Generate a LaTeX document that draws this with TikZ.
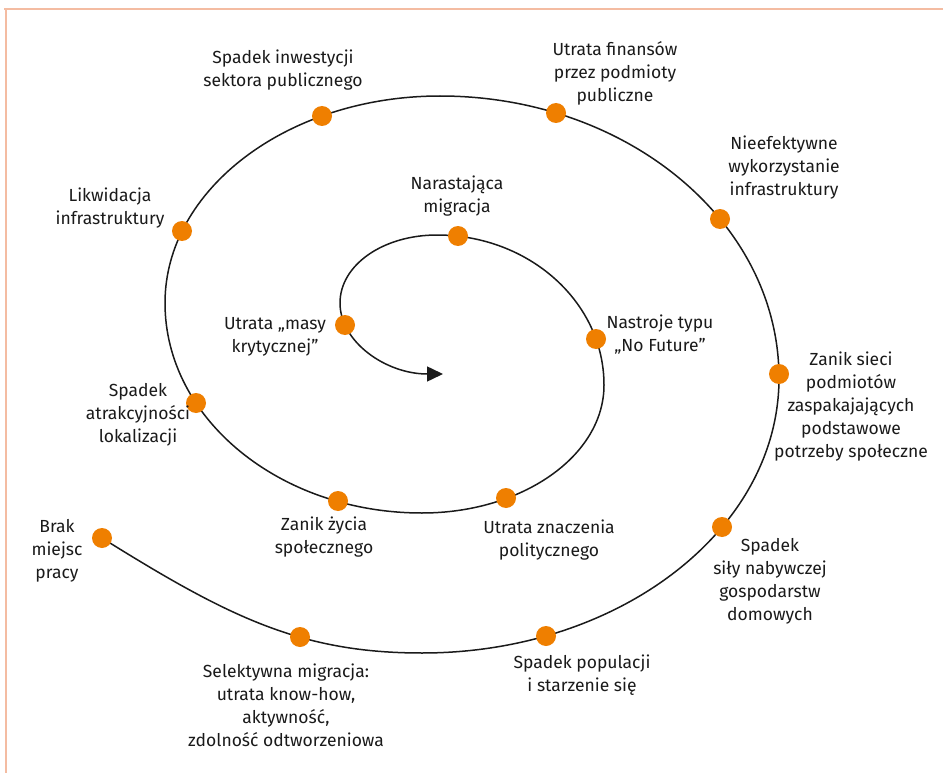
\documentclass[tikz,border=0pt]{standalone}
\usepackage{fontspec}
\setmainfont{Fira Sans}
\usetikzlibrary{arrows.meta}
\definecolor{dotorange}{HTML}{EF7F00}
\definecolor{framepeach}{HTML}{F4BCA2}
\definecolor{ink}{HTML}{1A1A1A}
\tikzset{
  dotnode/.style={circle,fill=dotorange,draw=none,minimum size=20pt,inner sep=0pt},
  lbl/.style={align=center,text=ink,inner sep=0pt,font=\fontsize{17.5}{23}\selectfont},
  spiralline/.style={line width=1.5pt,draw=ink},
}
\begin{document}
\begin{tikzpicture}[x=1pt,y=-1pt]
\useasboundingbox (0,0) rectangle (943,773);
\fill[white] (0,0) rectangle (943,773);
% frame lines
\draw[framepeach,line width=2pt] (4,9) -- (943,9);
\draw[framepeach,line width=2pt] (6,9) -- (6,773);
% spiral turning points
\coordinate (start) at (102,538);
\coordinate (b1) at (422,653);
\coordinate (r1) at (779,378);
\coordinate (t1) at (440,96);
\coordinate (l1) at (165,303);
\coordinate (b2) at (422,513);
\coordinate (r2) at (604,385);
\coordinate (t2) at (437,235);
\coordinate (l2) at (340,303);
\coordinate (tip) at (443,374);
% spiral
\draw[spiralline,-{Triangle[length=16pt,width=15pt]}]
  (start) .. controls (230,618) and (302,653) .. (b1)
          .. controls (619,653) and (779,530) .. (r1)
          .. controls (779,222) and (627,96) .. (t1)
          .. controls (288,96) and (165,189) .. (l1)
          .. controls (165,419) and (280,513) .. (b2)
          .. controls (522,513) and (604,456) .. (r2)
          .. controls (604,302) and (529,235) .. (t2)
          .. controls (383,235) and (340,265) .. (l2)
          .. controls (340,342) and (386,374) .. (tip);
% dots
\node[dotnode] (brak)   at (start) {};
\node[dotnode] (selekt) at (300,637) {};
\node[dotnode] (popul)  at (546,636) {};
\node[dotnode] (sily)   at (722,527) {};
\node[dotnode] (sieci)  at (779,374) {};
\node[dotnode] (nieef)  at (720,219) {};
\node[dotnode] (finans) at (556,113) {};
\node[dotnode] (inwest) at (322,116) {};
\node[dotnode] (likw)   at (182,231) {};
\node[dotnode] (atrakc) at (196,403) {};
\node[dotnode] (zycia)  at (338,501) {};
\node[dotnode] (znacz)  at (506,498) {};
\node[dotnode] (nastr)  at (596,339) {};
\node[dotnode] (narast) at (458,236) {};
\node[dotnode] (masy)   at (345,325) {};
% labels
\node[lbl] (linwest) at (283,70) {Spadek inwestycji\\sektora publicznego};
\node[lbl] (lfinans) at (615,73) {Utrata finansów\\przez podmioty\\publiczne};
\node[lbl] (lnieef) at (784,168) {Nieefektywne\\wykorzystanie\\infrastruktury};
\node[lbl] (llikw) at (110,208) {Likwidacja\\infrastruktury};
\node[lbl] (lnarast) at (457,196) {Narastająca\\migracja};
\node[lbl] (lmasy) at (275,337) {Utrata „masy\\krytycznej”};
\node[lbl] (lnastr) at (660,335) {Nastroje typu\\„No Future”};
\node[lbl] (lsieci) at (851,407) {Zanik sieci\\podmiotów\\zaspakajających\\podstawowe\\potrzeby społeczne};
\node[lbl] (latrakc) at (138,415) {Spadek\\atrakcyjności\\lokalizacji};
\node[lbl] (lzycia) at (324,537) {Zanik życia\\społecznego};
\node[lbl] (lznacz) at (549,540) {Utrata znaczenia\\politycznego};
\node[lbl] (lsily) at (770,581) {Spadek\\siły nabywczej\\gospodarstw\\domowych};
\node[lbl] (lbrak) at (57,551) {Brak\\miejsc\\pracy};
\node[lbl] (lpopul) at (582,675) {Spadek populacji\\i starzenie się};
\node[lbl] (lselekt) at (286,705) {Selektywna migracja:\\utrata know-how,\\aktywność,\\zdolność odtworzeniowa};
\end{tikzpicture}
\end{document}
